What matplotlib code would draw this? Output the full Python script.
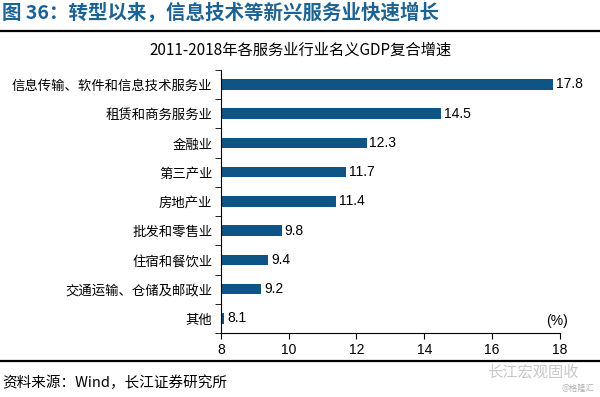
import matplotlib.pyplot as plt
from matplotlib.lines import Line2D

plt.rcParams['font.family'] = ['Noto Sans CJK SC', 'DejaVu Sans']

# data
categories = ["信息传输、软件和信息技术服务业", "租赁和商务服务业", "金融业", "第三产业",
              "房地产业", "批发和零售业", "住宿和餐饮业", "交通运输、仓储及邮政业", "其他"]
values = [17.8, 14.5, 12.3, 11.7, 11.4, 9.8, 9.4, 9.2, 8.1]
x_ticks = [8, 10, 12, 14, 16, 18]

bar_color = "#0E5487"
title_color = "#1C6394"
latin = ['Liberation Sans', 'DejaVu Sans']

fig = plt.figure(figsize=(6, 3.97), dpi=100)
ax = fig.add_axes([0.368, 0.161, 0.565, 0.663])

ypos = list(range(len(categories)))
ax.barh(ypos, [v - 8 for v in values], left=8, height=0.36, color=bar_color)
for y, v in zip(ypos, values):
    ax.text(v + 0.08, y, f"{v}", va="center", ha="left", fontsize=10, family=latin)

ax.set_xlim(8, 18)
ax.set_ylim(len(categories) - 0.5, -0.5)
ax.set_xticks(x_ticks)
ax.set_xticklabels([str(t) for t in x_ticks], fontsize=10, family=latin)
ax.set_yticks(ypos)
ax.set_yticklabels(categories, fontsize=9.6)
ax.tick_params(axis="y", length=0, pad=6)
ax.set_yticks([i - 0.5 for i in range(len(categories) + 1)], minor=True)
ax.tick_params(axis="y", which="minor", length=4, direction="out")
ax.tick_params(axis="x", length=4, direction="out", pad=3)
for s in ["top", "right"]:
    ax.spines[s].set_visible(False)
for s in ["left", "bottom"]:
    ax.spines[s].set_linewidth(0.8)

ax.text(17.6, 8.1, "(%)", fontsize=10, ha="left", va="center", family=latin)

# headers and footer
fig.text(0.003, 0.968, "图 36：转型以来，信息技术等新兴服务业快速增长", fontsize=14,
         fontweight="bold", color=title_color, va="center", ha="left")
fig.add_artist(Line2D([0, 1], [0.922, 0.922], color="black", lw=1.6))
fig.text(0.5, 0.874, "2011-2018年各服务业行业名义GDP复合增速", fontsize=11,
         ha="center", va="center")
fig.add_artist(Line2D([0, 1], [0.09, 0.09], color="black", lw=1.6))
fig.text(0.003, 0.035, "资料来源：Wind，长江证券研究所", fontsize=10.5, ha="left", va="center")
fig.text(0.965, 0.063, "长江宏观固收", fontsize=11, color="#C8C8C8", ha="right", va="center")
fig.text(0.99, 0.022, "@格隆汇", fontsize=6, color="#B0B0B0", ha="right", va="center")

fig.savefig("out.png", dpi=100)
